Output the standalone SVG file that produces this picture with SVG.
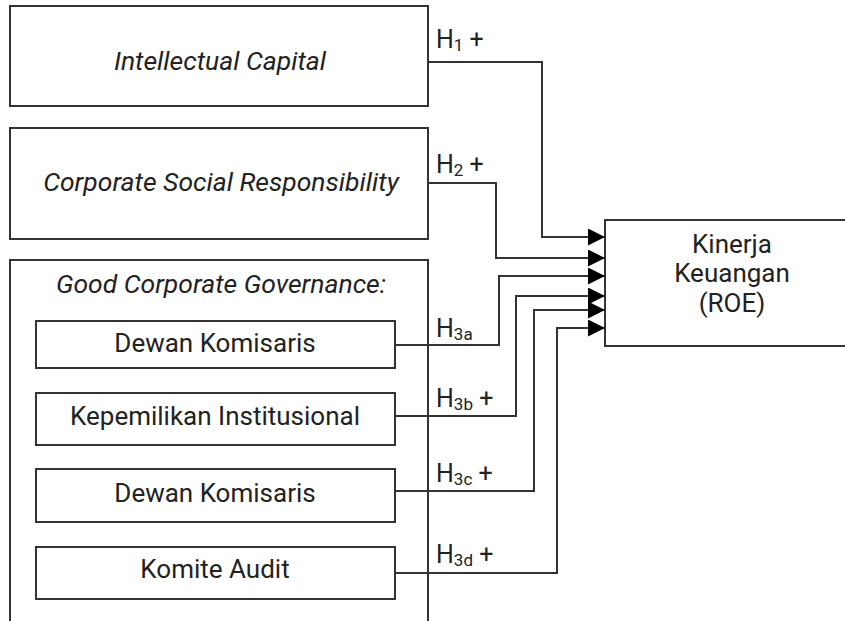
<svg xmlns="http://www.w3.org/2000/svg" width="845" height="621" viewBox="0 0 845 621">
<style>
.box{fill:#fff;stroke:#333;stroke-width:2}
.t{font-family:Roboto,"Liberation Sans",sans-serif;fill:#222;text-anchor:middle;font-size:26px}
.it{font-style:italic;font-size:26.5px}
.lbl{font-family:Roboto,"Liberation Sans",sans-serif;fill:#222;font-size:25px}
.sub{font-size:17px}
.con{fill:none;stroke:#333;stroke-width:2}
</style>
<defs>
<marker id="arr" markerUnits="userSpaceOnUse" markerWidth="18" markerHeight="18" refX="17" refY="8.5" orient="auto">
<path d="M0,0 L17,8.5 L0,17 z" fill="#000"/>
</marker>
</defs>
<rect width="845" height="621" fill="#fff"/>
<g id="ic"><rect class="box" x="10" y="6" width="418" height="100"/><text class="t it" x="220" y="70">Intellectual Capital</text></g>
<g id="csr"><rect class="box" x="10" y="128" width="418" height="111"/><text class="t it" x="221" y="191">Corporate Social Responsibility</text></g>
<g id="gcg"><rect class="box" x="10" y="260" width="418" height="380"/><text class="t it" x="221" y="293">Good Corporate Governance:</text></g>
<g id="dk1"><rect class="box" x="36" y="321" width="359" height="47"/><text class="t" x="215" y="352">Dewan Komisaris</text></g>
<g id="ki"><rect class="box" x="36" y="393" width="359" height="52"/><text class="t" x="215" y="425">Kepemilikan Institusional</text></g>
<g id="dk2"><rect class="box" x="36" y="469" width="359" height="53"/><text class="t" x="215" y="502">Dewan Komisaris</text></g>
<g id="ka"><rect class="box" x="36" y="547" width="359" height="52"/><text class="t" x="215" y="578">Komite Audit</text></g>
<g id="roe"><rect class="box" x="605" y="220" width="260" height="126"/>
<text class="t" x="732" y="253">Kinerja</text>
<text class="t" x="732" y="282">Keuangan</text>
<text class="t" x="732" y="312">(ROE)</text></g>
<g id="connectors">
<path class="con" marker-end="url(#arr)" d="M428,62 H542 V237 H605"/>
<path class="con" marker-end="url(#arr)" d="M428,183 H496 V258 H605"/>
<path class="con" marker-end="url(#arr)" d="M395,345 H499 V276 H605"/>
<path class="con" marker-end="url(#arr)" d="M395,416 H516 V296 H605"/>
<path class="con" marker-end="url(#arr)" d="M395,491 H534 V310 H605"/>
<path class="con" marker-end="url(#arr)" d="M395,573 H557 V328 H605"/>
</g>
<g id="labels">
<text class="lbl" x="436" y="48">H<tspan class="sub" dy="3">1</tspan><tspan dy="-3"> +</tspan></text>
<text class="lbl" x="436" y="173">H<tspan class="sub" dy="3">2</tspan><tspan dy="-3"> +</tspan></text>
<text class="lbl" x="436" y="337">H<tspan class="sub" dy="3">3a</tspan></text>
<text class="lbl" x="436" y="407">H<tspan class="sub" dy="3">3b</tspan><tspan dy="-3"> +</tspan></text>
<text class="lbl" x="436" y="482">H<tspan class="sub" dy="3">3c</tspan><tspan dy="-3"> +</tspan></text>
<text class="lbl" x="436" y="563">H<tspan class="sub" dy="3">3d</tspan><tspan dy="-3"> +</tspan></text>
</g>
</svg>
